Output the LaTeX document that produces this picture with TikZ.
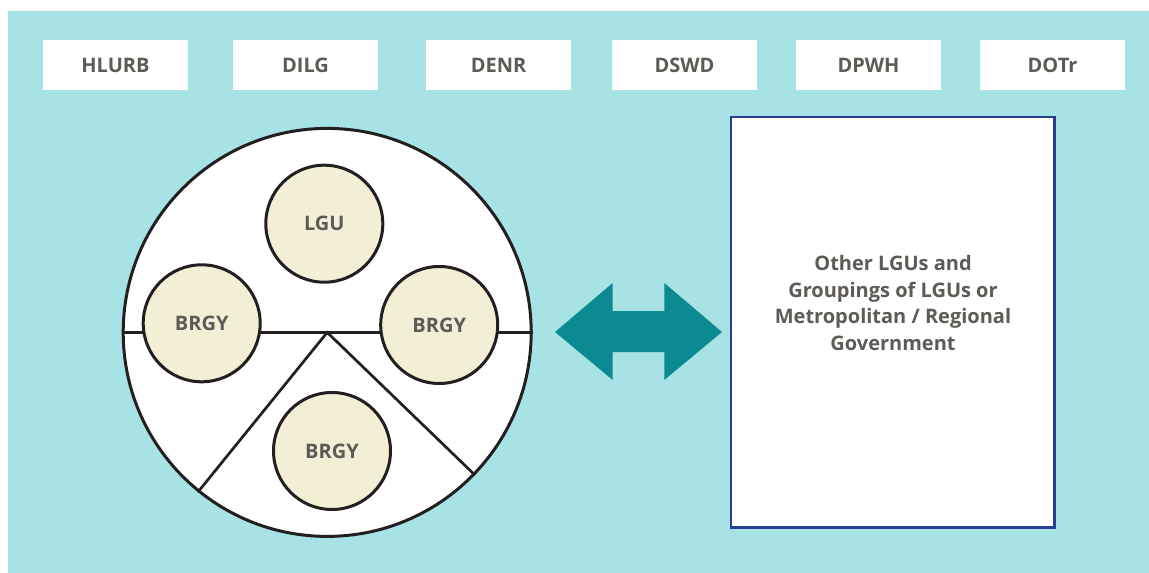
\documentclass[tikz,border=0pt]{standalone}
\usepackage{fontspec}
\setmainfont{Open Sans}
\definecolor{panel}{HTML}{A7E2E4}
\definecolor{teal}{HTML}{0B8B91}
\definecolor{frame}{HTML}{283E95}
\definecolor{beige}{HTML}{F2EFD6}
\definecolor{label}{HTML}{5E5A56}
\definecolor{ink}{HTML}{231F20}
\tikzset{
    agency/.style={rectangle, fill=white, minimum width=145pt, minimum height=50pt,
        inner sep=0pt, font=\fontsize{20}{24}\selectfont\bfseries, text=label},
    unit/.style={circle, draw=ink, line width=3pt, fill=beige, minimum size=117pt,
        inner sep=0pt, font=\fontsize{20}{24}\selectfont\bfseries, text=label},
    divider/.style={draw=ink, line width=2.7pt}
}
\begin{document}
\begin{tikzpicture}[x=1pt,y=-1pt]
    \useasboundingbox (0,0) rectangle (1149,573);
    \fill[panel] (8,11) rectangle (1149,573);

    % agencies on top
    \foreach \name/\cx in {HLURB/115.5, DILG/305.5, DENR/498.5, DSWD/684.5, DPWH/868.5, DOTr/1052.5}
        \node[agency] (\name) at (\cx,65) {\name};

    % the LGU with its barangays
    \node[circle, draw=ink, line width=3pt, fill=white, minimum size=408pt, inner sep=0pt] (region) at (327.2,332.4) {};
    \draw[divider] (region.west) -- (region.east);
    \draw[divider] (region.-129.4) -- (region.center) -- (region.-44.8);

    \node[unit] (lgu) at (324.3,223.7) {LGU};
    \node[unit] (brgyW) at (201.7,323.3) {BRGY};
    \node[unit] (brgyE) at (439.2,325) {BRGY};
    \node[unit] (brgyS) at (332,451) {BRGY};

    % double arrow
    \fill[teal] (555,332) -- (612.7,283) -- (612.7,311) -- (664.3,311) -- (664.3,283)
        -- (722,332) -- (664.3,380) -- (664.3,352) -- (612.7,352) -- (612.7,380) -- cycle;

    % other governments
    \node[rectangle, draw=frame, line width=2.5pt, fill=white, minimum width=323.5pt,
        minimum height=410.5pt, inner sep=0pt] (others) at (892.75,322.25) {};
    \node[align=center, text=label, font=\fontsize{20}{26.5}\selectfont\bfseries] (otherstext) at (893,303)
        {Other LGUs and\\Groupings of LGUs or\\Metropolitan / Regional\\Government};
\end{tikzpicture}
\end{document}
